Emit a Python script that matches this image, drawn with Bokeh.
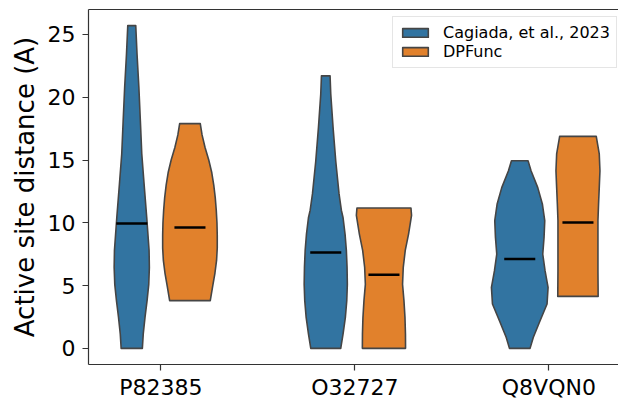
import numpy as np
from bokeh.plotting import figure
from bokeh.models import Range1d, FixedTicker, LinearAxis, Legend, LegendItem
from bokeh.embed import file_html
from bokeh.resources import INLINE

# ---------------- data ----------------
categories = ["P82385", "O32727", "Q8VQN0"]
series = ["Cagiada, et al., 2023", "DPFunc"]
y_ticks = [0, 5, 10, 15, 20, 25]

# medians
cagiada_median = [9.95, 7.64, 7.12]
dpfunc_median = [9.63, 5.86, 10.03]

# violin density profiles (value levels, relative density 0..1)
p82385_cagiada_y = [25.7, 23.4, 20.8, 18.1, 15.5, 13.1, 10.4, 7.8, 6.45, 5.1, 3.8, 2.5, 1.15, 0.0]
p82385_cagiada_d = [0.137, 0.182, 0.244, 0.296, 0.344, 0.423, 0.515, 0.595, 0.605, 0.584, 0.526, 0.457, 0.395, 0.364]

p82385_dpfunc_y = [17.9, 17.0, 16.0, 15.0, 14.0, 13.0, 12.0, 11.0, 10.0, 9.0, 8.0, 7.0, 6.0, 5.0, 3.8]
p82385_dpfunc_d = [0.354, 0.416, 0.519, 0.646, 0.749, 0.818, 0.869, 0.904, 0.928, 0.938, 0.938, 0.914, 0.859, 0.784, 0.698]

o32727_cagiada_y = [21.7, 20.25, 17.6, 14.9, 12.3, 11.0, 10.4, 9.1, 7.8, 6.45, 5.1, 3.8, 2.47, 1.15, 0.0]
o32727_cagiada_d = [0.148, 0.172, 0.251, 0.344, 0.457, 0.536, 0.595, 0.663, 0.708, 0.732, 0.742, 0.722, 0.674, 0.595, 0.515]

o32727_dpfunc_y = [11.18, 10.6, 9.1, 7.8, 6.45, 5.1, 3.8, 2.47, 1.15, 0.0]
o32727_dpfunc_d = [0.928, 0.948, 0.845, 0.732, 0.663, 0.639, 0.687, 0.722, 0.739, 0.742]

q8vqn0_cagiada_y = [14.94, 14.15, 12.8, 11.5, 10.17, 8.84, 7.5, 6.19, 4.86, 3.53, 2.2, 0.88, 0.0]
q8vqn0_cagiada_d = [0.285, 0.388, 0.619, 0.777, 0.859, 0.835, 0.790, 0.869, 0.973, 0.938, 0.698, 0.467, 0.354]

q8vqn0_dpfunc_y = [16.88, 15.48, 14.15, 12.8, 11.5, 10.17, 8.84, 7.5, 6.19, 4.14]
q8vqn0_dpfunc_d = [0.629, 0.732, 0.756, 0.732, 0.708, 0.687, 0.687, 0.687, 0.687, 0.694]

cagiada_profiles = [(p82385_cagiada_y, p82385_cagiada_d),
                    (o32727_cagiada_y, o32727_cagiada_d),
                    (q8vqn0_cagiada_y, q8vqn0_cagiada_d)]
dpfunc_profiles = [(p82385_dpfunc_y, p82385_dpfunc_d),
                   (o32727_dpfunc_y, o32727_dpfunc_d),
                   (q8vqn0_dpfunc_y, q8vqn0_dpfunc_d)]

# ---------------- style ----------------
FONT = "DejaVu Sans"
colors = ["#3274a1", "#e1812c"]
edge = "#454545"
spine = "#333333"
offsets = [-0.15, 0.15]
half_width = 0.15
median_half = 0.08

p = figure(width=618, height=405, output_backend="svg", toolbar_location=None,
           x_range=Range1d(-0.373, 2.359), y_range=Range1d(-1.285, 26.985))
p.min_border_left = 88
p.min_border_right = 0
p.min_border_top = 9
p.min_border_bottom = 41
p.outline_line_color = None
p.outline_line_alpha = 0
p.xgrid.visible = False
p.ygrid.visible = False
p.background_fill_color = "white"
p.border_fill_color = "white"

renderers = []
for s, profiles in enumerate([cagiada_profiles, dpfunc_profiles]):
    meds = [cagiada_median, dpfunc_median][s]
    first = None
    for i, (yv, dv) in enumerate(profiles):
        c = i + offsets[s]
        yv = np.asarray(yv)
        dv = np.asarray(dv)
        xs = np.concatenate([c + dv * half_width, (c - dv * half_width)[::-1]])
        ys = np.concatenate([yv, yv[::-1]])
        r = p.patch(xs, ys, fill_color=colors[s], line_color=edge, line_width=1.6,
                    line_join="round")
        if first is None:
            first = r
        p.segment(x0=[c - median_half], x1=[c + median_half], y0=[meds[i]], y1=[meds[i]],
                  line_color="black", line_width=2.5)
    renderers.append(first)

# axes
for ax in [p.xaxis[0], p.yaxis[0]]:
    ax.axis_line_color = spine
    ax.axis_line_width = 1.2
    ax.major_tick_line_color = spine
    ax.major_tick_line_width = 1.2
    ax.major_tick_out = 6
    ax.major_tick_in = 0
    ax.minor_tick_line_color = None
    ax.major_label_text_font = FONT
    ax.major_label_text_font_size = "22px"
    ax.major_label_text_color = "black"

p.xaxis[0].ticker = FixedTicker(ticks=list(range(len(categories))))
p.xaxis[0].major_label_overrides = {i: c for i, c in enumerate(categories)}
p.xaxis[0].major_label_standoff = 4
p.yaxis[0].ticker = FixedTicker(ticks=y_ticks)
p.yaxis[0].major_label_standoff = 7
p.yaxis[0].axis_label = "Active site distance (A)"
p.yaxis[0].axis_label_text_font = FONT
p.yaxis[0].axis_label_text_font_size = "26px"
p.yaxis[0].axis_label_text_font_style = "normal"
p.yaxis[0].axis_label_text_color = "black"
p.yaxis[0].axis_label_standoff = 5

top = LinearAxis(ticker=FixedTicker(ticks=[]), major_label_text_font_size="0px",
                 axis_line_color=spine, axis_line_width=1.2,
                 major_tick_line_color=None, minor_tick_line_color=None)
p.add_layout(top, "above")

legend = Legend(items=[LegendItem(label=series[k], renderers=[renderers[k]]) for k in range(2)],
                location=(304, 296))
legend.label_text_font = FONT
legend.label_text_font_size = "16px"
legend.label_text_color = "black"
legend.glyph_width = 32
legend.glyph_height = 11
legend.label_standoff = 12
legend.padding = 6
legend.spacing = 0
legend.margin = 0
legend.border_line_color = "#cccccc"
legend.border_line_width = 1
legend.background_fill_alpha = 0.8
p.add_layout(legend)

open("out.html", "w").write(file_html(p, INLINE))
